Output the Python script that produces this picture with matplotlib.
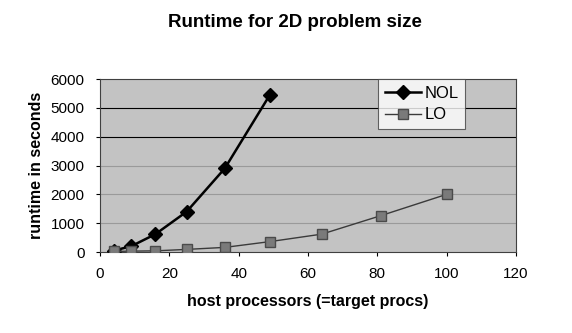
import matplotlib
matplotlib.use("Agg")
import matplotlib.pyplot as plt

# host processors (=target procs)
nol_procs = [4, 9, 16, 25, 36, 49]
nol_runtime = [50, 200, 620, 1400, 2900, 5450]

lo_procs = [4, 9, 16, 25, 36, 49, 64, 81, 100]
lo_runtime = [20, 30, 40, 90, 160, 360, 620, 1260, 2000]

y_ticks = [0, 1000, 2000, 3000, 4000, 5000, 6000]
x_ticks = [0, 20, 40, 60, 80, 100, 120]

plt.rcParams["font.family"] = ["Liberation Sans", "DejaVu Sans"]

fig = plt.figure(figsize=(5.72, 3.33), dpi=100)
ax = fig.add_axes([100/572, 81/333, 416/572, 173/333])
ax.set_facecolor("#c3c3c3")

for yv in y_ticks[1:-1]:
	col = "black" if yv >= 4000 else "#9a9a9a"
	ax.axhline(yv, color=col, lw=0.8, zorder=1)

ax.plot(nol_procs, nol_runtime, color="black", lw=1.8, marker="D", ms=7,
	mfc="black", mec="black", label="NOL", zorder=3)
ax.plot(lo_procs, lo_runtime, color="#3a3a3a", lw=1.0, marker="s", ms=7,
	mfc="#7a7a7a", mec="#4a4a4a", label="LO", zorder=3)

ax.set_xlim(0, 120)
ax.set_ylim(0, 6000)
ax.set_xticks(x_ticks)
ax.set_yticks(y_ticks)
ax.tick_params(axis="both", labelsize=11, length=3, width=0.8, pad=8)
for s in ax.spines.values():
	s.set_color("#404040")
	s.set_linewidth(0.8)

ax.set_xlabel("host processors (=target procs)", fontsize=11.5, fontweight="bold", labelpad=9)
ax.set_ylabel("runtime in seconds", fontsize=11.5, fontweight="bold", labelpad=5)

fig.text(0.515, 0.932, "Runtime for 2D problem size", ha="center", va="center",
	fontsize=13.5, fontweight="bold")

leg = ax.legend(loc="upper left", bbox_to_anchor=(278/416, 1.0), fontsize=12,
	frameon=True, fancybox=False, handlelength=2.2, borderpad=0.4,
	labelspacing=0.4, handletextpad=0.2, borderaxespad=0)
leg.get_frame().set_edgecolor("#404040")
leg.get_frame().set_linewidth(0.8)
leg.get_frame().set_facecolor("white")

fig.savefig("out.png", dpi=100)
